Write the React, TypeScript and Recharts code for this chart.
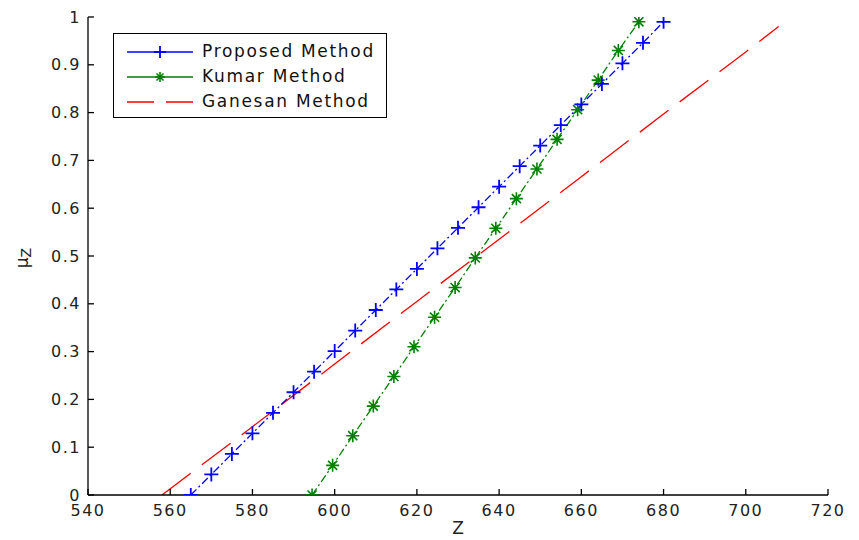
import { LineChart, Line, XAxis, YAxis, Legend, Label } from 'recharts';

// values
const proposedZ = [565, 570, 575, 580, 585, 590, 595, 600, 605, 610, 615, 620, 625, 630, 635, 640, 645, 650, 655, 660, 665, 670, 675, 680];
const proposedMu = [0, 0.043, 0.086, 0.129, 0.172, 0.215, 0.258, 0.301, 0.344, 0.387, 0.43, 0.473, 0.516, 0.559, 0.602, 0.645, 0.688, 0.731, 0.774, 0.817, 0.86, 0.903, 0.946, 0.99];

const kumarZ = [594.5, 599.5, 604.4, 609.4, 614.4, 619.3, 624.3, 629.3, 634.2, 639.2, 644.2, 649.2, 654.1, 659.1, 664.1, 669, 674];
const kumarMu = [0, 0.062, 0.124, 0.186, 0.248, 0.31, 0.372, 0.434, 0.496, 0.558, 0.62, 0.682, 0.744, 0.806, 0.868, 0.93, 0.99];

const ganesanZ = [558, 580, 600, 620, 640, 660, 680, 700, 708];
const ganesanMu = [0, 0.143, 0.274, 0.405, 0.535, 0.666, 0.797, 0.927, 0.98];

const xTicks = [540, 560, 580, 600, 620, 640, 660, 680, 700, 720];
const yTicks = [0, 0.1, 0.2, 0.3, 0.4, 0.5, 0.6, 0.7, 0.8, 0.9, 1];

const toRows = (z: number[], mu: number[]) => z.map((v, i) => ({ z: v, mu: mu[i] }));

const proposed = toRows(proposedZ, proposedMu);
const kumar = toRows(kumarZ, kumarMu);
const ganesan = toRows(ganesanZ, ganesanMu);

const BLUE = '#0000ff';
const GREEN = '#008000';
const RED = '#ff0000';
const FONT = '"DejaVu Sans", Arial, sans-serif';

const tickStyle = { fill: '#222', fontSize: 16, fontFamily: FONT, letterSpacing: 1.5 };

function PlusMark({ cx, cy, size = 7 }: { cx?: number; cy?: number; size?: number }) {
  if (cx == null || cy == null) return null;
  return (
    <path
      d={`M${cx - size},${cy}H${cx + size}M${cx},${cy - size}V${cy + size}`}
      stroke={BLUE}
      strokeWidth={1.8}
      fill="none"
    />
  );
}

function StarMark({ cx, cy, size = 6.5 }: { cx?: number; cy?: number; size?: number }) {
  if (cx == null || cy == null) return null;
  const d = size * 0.7;
  return (
    <path
      d={`M${cx - size},${cy}H${cx + size}M${cx},${cy - size}V${cy + size}` +
        `M${cx - d},${cy - d}L${cx + d},${cy + d}M${cx - d},${cy + d}L${cx + d},${cy - d}`}
      stroke={GREEN}
      strokeWidth={1.6}
      fill="none"
    />
  );
}

const legendRows = [
  { name: 'Proposed Method', color: BLUE, dash: undefined, mark: 'plus' },
  { name: 'Kumar Method', color: GREEN, dash: undefined, mark: 'star' },
  { name: 'Ganesan Method', color: RED, dash: '27 12', mark: 'none' },
];

function LegendBox() {
  return (
    <div style={{
      width: 272,
      height: 78,
      paddingTop: 5,
      border: '1px solid #000',
      background: '#fff',
      fontFamily: FONT,
      fontSize: 17,
      letterSpacing: 1.7,
      color: '#111',
    }}>
      {legendRows.map(r => (
        <div key={r.name} style={{ display: 'flex', alignItems: 'center', height: 25, paddingLeft: 13 }}>
          <svg width={66} height={20} style={{ display: 'block' }}>
            <line x1={0} y1={10} x2={66} y2={10} stroke={r.color} strokeWidth={1.3} strokeDasharray={r.dash} />
            {r.mark === 'plus' && <PlusMark cx={33} cy={10} size={6} />}
            {r.mark === 'star' && <StarMark cx={33} cy={10} size={5} />}
          </svg>
          <span style={{ marginLeft: 9, lineHeight: 1 }}>{r.name}</span>
        </div>
      ))}
    </div>
  );
}

function YTitle({ viewBox }: { viewBox?: { x: number; y: number; width: number; height: number } }) {
  if (!viewBox) return null;
  const cx = viewBox.x - 6;
  const cy = viewBox.y + viewBox.height / 2 + 2;
  return (
    <text
      x={cx}
      y={cy}
      transform={`rotate(-90, ${cx}, ${cy})`}
      textAnchor="middle"
      dominantBaseline="central"
      fontFamily={FONT}
      fontSize={17}
      fill="#222"
    >
      μ<tspan fontSize={14} dy={4}>Z</tspan>
    </text>
  );
}

export default function App() {
  return (
    <div style={{ position: 'absolute', left: 0, top: 0, background: '#fff' }}>
      <LineChart width={859} height={540} margin={{ top: 17, right: 31, bottom: 15, left: 28 }}>
        <XAxis
          dataKey="z"
          type="number"
          domain={[540, 720]}
          ticks={xTicks}
          allowDataOverflow
          height={30}
          stroke="#000"
          strokeWidth={1.3}
          tickSize={-6}
          tickMargin={16}
          tick={tickStyle}
        >
          <Label value="Z" position="bottom" offset={-3} style={{ fontFamily: FONT, fontSize: 17, fill: '#222' }} />
        </XAxis>
        <XAxis
          xAxisId="top"
          orientation="top"
          type="number"
          domain={[540, 720]}
          ticks={xTicks}
          allowDataOverflow
          height={0}
          stroke="#000"
          strokeWidth={1.3}
          tickSize={-6}
          tickFormatter={() => ''}
        />
        <YAxis
          dataKey="mu"
          type="number"
          domain={[0, 1]}
          ticks={yTicks}
          allowDataOverflow
          width={60}
          stroke="#000"
          strokeWidth={1.3}
          tickSize={-6}
          tickMargin={13}
          tick={tickStyle}
        >
          <Label content={<YTitle />} />
        </YAxis>
        <YAxis
          yAxisId="right"
          orientation="right"
          type="number"
          domain={[0, 1]}
          ticks={yTicks}
          allowDataOverflow
          width={0}
          stroke="#000"
          strokeWidth={1.3}
          tickSize={-6}
          tickFormatter={() => ''}
        />
        <Legend
          layout="vertical"
          align="center"
          verticalAlign="middle"
          content={<LegendBox />}
          wrapperStyle={{ left: 113, top: 33, width: 'auto', height: 'auto' }}
        />
        <Line
          data={ganesan}
          dataKey="mu"
          name="Ganesan Method"
          type="linear"
          stroke={RED}
          strokeWidth={1.3}
          strokeDasharray="36 14"
          dot={false}
          activeDot={false}
          isAnimationActive={false}
        />
        <Line
          data={kumar}
          dataKey="mu"
          name="Kumar Method"
          type="linear"
          stroke={GREEN}
          strokeWidth={1.3}
          strokeDasharray="8 3 2 3"
          dot={(p: any) => <StarMark key={`k${p.index}`} cx={p.cx} cy={p.cy} />}
          activeDot={false}
          isAnimationActive={false}
        />
        <Line
          data={proposed}
          dataKey="mu"
          name="Proposed Method"
          type="linear"
          stroke={BLUE}
          strokeWidth={1.3}
          strokeDasharray="8 3 2 3"
          dot={(p: any) => <PlusMark key={`p${p.index}`} cx={p.cx} cy={p.cy} />}
          activeDot={false}
          isAnimationActive={false}
        />
      </LineChart>
    </div>
  );
}
